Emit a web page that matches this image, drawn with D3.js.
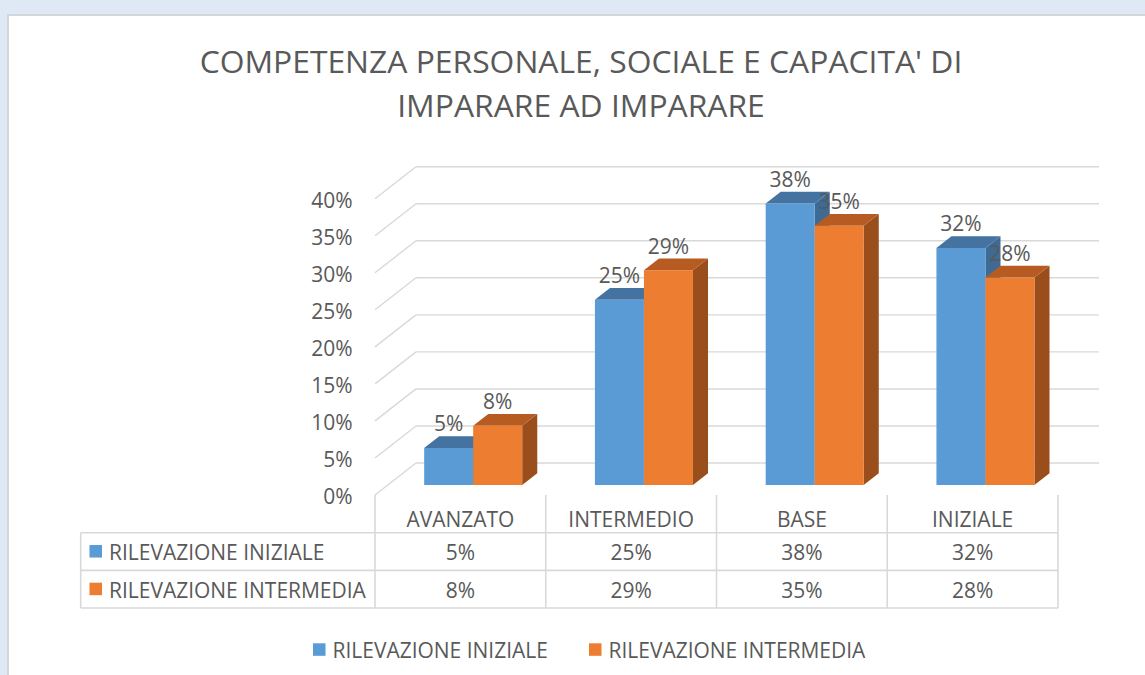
<!DOCTYPE html>
<html>
<head>
<meta charset="utf-8">
<script src="https://cdn.jsdelivr.net/npm/d3@7"></script>
<style>
  html, body { margin: 0; padding: 0; background: #dfe9f5; }
  svg { display: block; }
  text { font-family: "Open Sans", "Noto Sans", sans-serif; fill: #595959; }
</style>
</head>
<body>
<svg id="chart" width="1145" height="675"></svg>
<script>
// ---- data ----
const titleLines = ["COMPETENZA PERSONALE, SOCIALE E CAPACITA' DI", "IMPARARE AD IMPARARE"];
const categories = ["AVANZATO", "INTERMEDIO", "BASE", "INIZIALE"];
const seriesNames = ["RILEVAZIONE INIZIALE", "RILEVAZIONE INTERMEDIA"];
const valuesIniziale = [0.05, 0.25, 0.38, 0.32];
const valuesIntermedia = [0.08, 0.29, 0.35, 0.28];
const yTicks = [0, 0.05, 0.10, 0.15, 0.20, 0.25, 0.30, 0.35, 0.40];
const seriesFront = ["#5b9bd5", "#ed7d31"];
const seriesTop = ["#4573a1", "#b65c22"];
const seriesSide = ["#3e6a96", "#9a4e1c"];

const series = [valuesIniziale, valuesIntermedia];
const pct = d3.format(".0%");

const svg = d3.select("#chart");

// panel background
svg.append("rect").attr("x", 0).attr("y", 0).attr("width", 1145).attr("height", 675).attr("fill", "#dfe9f5");
svg.append("rect").attr("x", 8).attr("y", 15).attr("width", 1145).attr("height", 675)
  .attr("fill", "#ffffff").attr("stroke", "#d3d6da").attr("stroke-width", 2);

// helper: fit font size to a target width
function fitSize(str, target, base) {
  const t = svg.append("text").attr("font-size", base).text(str);
  const w = t.node().getComputedTextLength();
  t.remove();
  return base * target / w;
}
const titleSize = fitSize(titleLines[0], 763, 30);
const smallSize = fitSize(seriesNames[1], 257, 20);

// title
svg.append("g").selectAll("text").data(titleLines).join("text")
  .attr("x", 581).attr("y", (d, i) => 72.5 + i * 44.7)
  .attr("text-anchor", "middle").attr("font-size", titleSize).attr("fill", "#595959")
  .text(d => d);

// scales
const x = d3.scaleBand().domain(categories).range([375, 1058]).padding(0);
const xs = d3.scaleBand().domain([0, 1]).range([0, x.bandwidth()]).paddingInner(0).paddingOuter(0.742);
const y = d3.scaleLinear().domain([0, 0.40]).range([495, 198.7]);
const DX = 41, DY = -32;           // full depth offset of the floor
const dFront = 0.3125, dBack = 0.68; // bar depth range (fraction of floor depth)

// gridlines: back wall + left side wall
const grid = svg.append("g").attr("stroke", "#d9d9d9").attr("stroke-width", 1.4).attr("fill", "none");
grid.selectAll("line.h").data(yTicks).join("line").attr("class", "h")
  .attr("x1", 375 + DX).attr("x2", 1058 + DX)
  .attr("y1", d => y(d) + DY).attr("y2", d => y(d) + DY);
grid.selectAll("line.dg").data(yTicks).join("line").attr("class", "dg")
  .attr("x1", 375).attr("y1", d => y(d))
  .attr("x2", 375 + DX).attr("y2", d => y(d) + DY);

// y axis labels
svg.append("g").selectAll("text").data(yTicks).join("text")
  .attr("x", 352.5).attr("y", d => y(d) + 2).attr("dy", "0.35em")
  .attr("text-anchor", "end").attr("font-size", smallSize)
  .text(d => pct(d));

// bars (3D)
const bars = [];
categories.forEach((c, ci) => {
  series.forEach((vals, si) => {
    bars.push({ c, ci, si, v: vals[ci] });
  });
});
const barG = svg.append("g");
bars.forEach(b => {
  const x0 = x(b.c) + xs(b.si) + dFront * DX;
  const x1 = x0 + xs.bandwidth();
  const yb = y(0) + dFront * DY;
  const yt = y(b.v) + dFront * DY;
  const ddx = (dBack - dFront) * DX, ddy = (dBack - dFront) * DY;
  const g = barG.append("g");
  // side
  g.append("path").attr("fill", seriesSide[b.si])
    .attr("d", `M${x1},${yb}L${x1 + ddx},${yb + ddy}L${x1 + ddx},${yt + ddy}L${x1},${yt}Z`);
  // top
  g.append("path").attr("fill", seriesTop[b.si])
    .attr("d", `M${x0},${yt}L${x1},${yt}L${x1 + ddx},${yt + ddy}L${x0 + ddx},${yt + ddy}Z`);
  // front
  g.append("rect").attr("fill", seriesFront[b.si])
    .attr("x", x0).attr("y", yt).attr("width", x1 - x0).attr("height", yb - yt);
  b.cx = (x0 + x1) / 2; b.top = yt;
});

// data labels
svg.append("g").selectAll("text").data(bars).join("text")
  .attr("x", d => d.cx).attr("y", d => d.top - 24).attr("dy", "0.35em")
  .attr("text-anchor", "middle").attr("font-size", smallSize).attr("fill", "#404040")
  .text(d => pct(d.v));

// data table
const tbl = svg.append("g");
const rowTop = 532.7, rowH = 37.65, tableLeft = 80.7;
const lines = tbl.append("g").attr("stroke", "#d9d9d9").attr("stroke-width", 1.6);
// vertical category lines
const colEdges = categories.map(c => x(c)).concat([x.range()[1]]);
lines.selectAll("line.v").data(colEdges).join("line").attr("class", "v")
  .attr("x1", d => d).attr("x2", d => d).attr("y1", 495).attr("y2", rowTop + 2 * rowH);
lines.append("line").attr("x1", tableLeft).attr("x2", tableLeft).attr("y1", rowTop).attr("y2", rowTop + 2 * rowH);
lines.selectAll("line.h").data([0, 1, 2]).join("line").attr("class", "h")
  .attr("x1", tableLeft).attr("x2", x.range()[1])
  .attr("y1", d => rowTop + d * rowH).attr("y2", d => rowTop + d * rowH);

// category headers
tbl.selectAll("text.cat").data(categories).join("text").attr("class", "cat")
  .attr("x", d => x(d) + x.bandwidth() / 2).attr("y", 519.5).attr("dy", "0.35em")
  .attr("text-anchor", "middle").attr("font-size", smallSize).text(d => d);

// rows
seriesNames.forEach((name, si) => {
  const cy = rowTop + si * rowH + rowH / 2;
  tbl.append("rect").attr("x", 89.5).attr("y", cy - 6.5).attr("width", 12.5).attr("height", 12.5)
    .attr("fill", seriesFront[si]);
  tbl.append("text").attr("x", 109).attr("y", cy + 1.5).attr("dy", "0.35em")
    .attr("font-size", smallSize).text(name);
  tbl.selectAll("text.val" + si).data(series[si]).join("text").attr("class", "val" + si)
    .attr("x", (d, i) => x(categories[i]) + x.bandwidth() / 2).attr("y", cy + 1.5).attr("dy", "0.35em")
    .attr("text-anchor", "middle").attr("font-size", smallSize).text(d => pct(d));
});

// legend
const legendX = [313, 589];
const leg = svg.append("g");
seriesNames.forEach((name, si) => {
  leg.append("rect").attr("x", legendX[si]).attr("y", 643.3).attr("width", 12.5).attr("height", 12.5)
    .attr("fill", seriesFront[si]);
  leg.append("text").attr("x", legendX[si] + 19.5).attr("y", 650.3).attr("dy", "0.35em")
    .attr("font-size", smallSize).text(name);
});
</script>
</body>
</html>
